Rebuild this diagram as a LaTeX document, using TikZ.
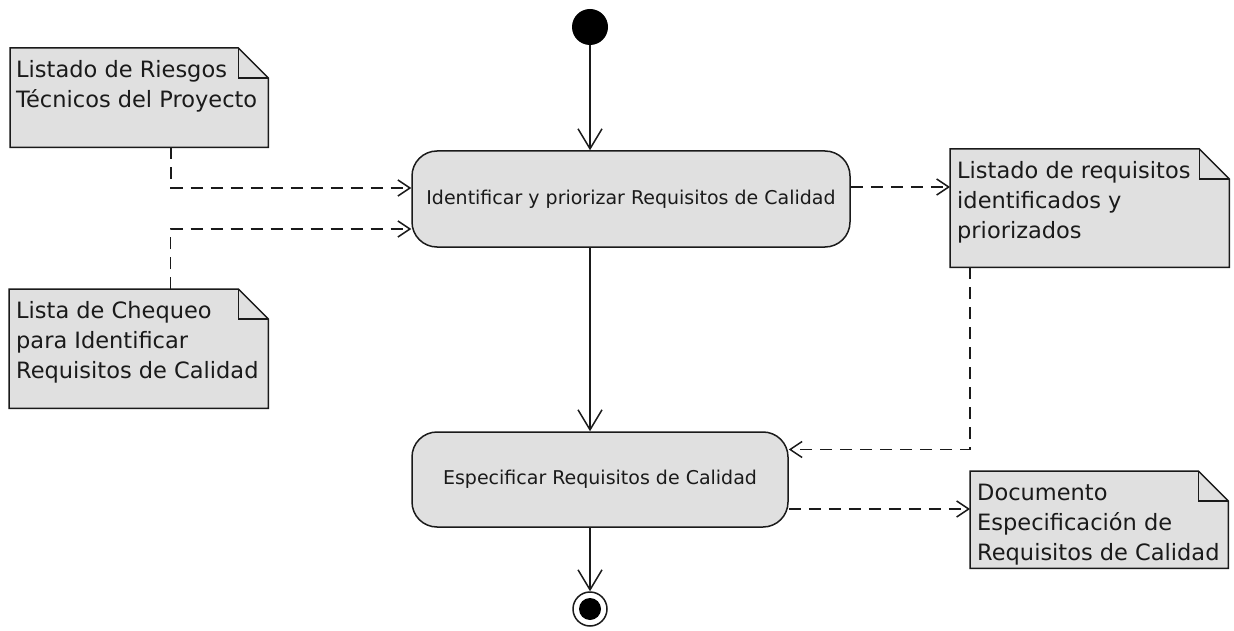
\documentclass[tikz,border=0pt]{standalone}
\usepackage{fontspec}
\setmainfont{DejaVu Sans}
\usetikzlibrary{arrows.meta}
\definecolor{boxfill}{HTML}{E0E0E0}
\definecolor{linec}{HTML}{1A1A1A}
\tikzset{
  action/.style={draw=linec, fill=boxfill, line width=1.5pt, rounded corners=25pt, inner sep=0pt, text=linec, font=\fontsize{19}{23}\selectfont},
  noteframe/.style={inner sep=0pt, anchor=north west},
  notetext/.style={inner sep=0pt, anchor=north west, align=left, text=linec, font=\fontsize{22.5}{30}\selectfont},
  flow/.style={draw=linec, line width=1.5pt, -{Straight Barb[length=20pt,width=24pt,line width=1.5pt]}},
  dep/.style={draw=linec, line width=1.5pt, dash pattern=on 12pt off 8pt, -{Straight Barb[length=12pt,width=16pt,line width=1.5pt]}},
}
\newcommand\notepaper[1]{%
  \filldraw[draw=linec, fill=boxfill, line width=1.5pt, line join=miter] (#1.north west) -- ([xshift=-30pt]#1.north east) -- ([yshift=-30pt]#1.north east) -- (#1.south east) -- (#1.south west) -- cycle;
  \draw[linec, line width=1.5pt] ([xshift=-30pt]#1.north east) |- ([yshift=-30pt]#1.north east);}
\begin{document}
\begin{tikzpicture}[x=1pt,y=-1pt]
\useasboundingbox[fill=white] (0,0) rectangle (1234,631);

% initial and final
\node[circle, fill=black, minimum size=36pt, inner sep=0pt] (start) at (590,27) {};
\node[circle, draw=linec, line width=1.5pt, fill=white, minimum size=34pt, inner sep=0pt,
      path picture={\fill[black] (path picture bounding box.center) circle (11pt);}] (end) at (590,609) {};

% actions
\node[action, minimum width=438pt, minimum height=96pt] (a1) at (631,199) {Identificar y priorizar Requisitos de Calidad};
\node[action, minimum width=376pt, minimum height=95pt] (a2) at (600,479.5) {Especificar Requisitos de Calidad};

% notes
\node[noteframe, minimum width=258pt, minimum height=99pt] (n1) at (10,48) {};
\notepaper{n1}
\node[notetext] (n1t) at ([xshift=6pt,yshift=-8pt]n1.north west) {\strut Listado de Riesgos\\Técnicos del Proyecto};

\node[noteframe, minimum width=279pt, minimum height=118pt] (n2) at (950,149) {};
\notepaper{n2}
\node[notetext] (n2t) at ([xshift=7pt,yshift=-8pt]n2.north west) {\strut Listado de requisitos\\identificados y\\priorizados};

\node[noteframe, minimum width=259pt, minimum height=119pt] (n3) at (9,289) {};
\notepaper{n3}
\node[notetext] (n3t) at ([xshift=7pt,yshift=-8pt]n3.north west) {\strut Lista de Chequeo\\para Identificar\\Requisitos de Calidad};

\node[noteframe, minimum width=258pt, minimum height=97pt] (n4) at (970,471) {};
\notepaper{n4}
\node[notetext] (n4t) at ([xshift=7pt,yshift=-8pt]n4.north west) {\strut Documento\\Especificación de\\Requisitos de Calidad};

% control flow
\draw[flow] (start) -- (start |- a1.north);
\draw[flow] (a1.south -| start) -- (a2.north -| start);
\draw[flow] (a2.south -| end) -- (end.north);

% object flows
\draw[dep] ([xshift=32pt]n1.south) |- ([yshift=11pt]a1.west);
\draw[dep] ([xshift=32pt]n3.north) |- ([yshift=-30pt]a1.west);
\draw[dep] ([yshift=12pt]a1.east) -- ([yshift=12pt]a1.east -| n2.west);
\draw[dep] ([xshift=20pt]n2.south west) |- ([yshift=30pt]a2.east);
\draw[dep] ([yshift=-29.5pt]a2.east) -- ([yshift=-29.5pt]a2.east -| n4.west);
\end{tikzpicture}
\end{document}
